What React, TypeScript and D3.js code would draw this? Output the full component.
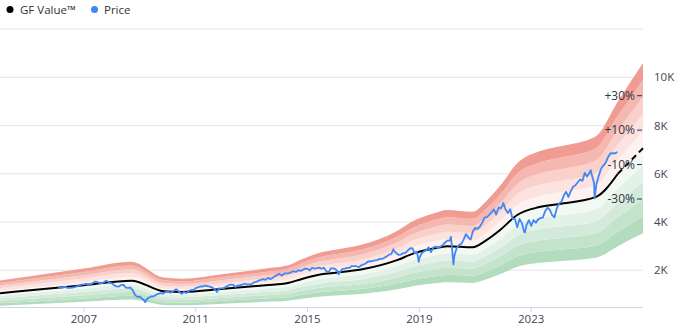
import React from "react";
import * as d3 from "d3";

// ---------- DATA ----------
// GF Value (decimal year, value)
const gfYears = [2004.0, 2007.0, 2008.7, 2009.85, 2010.5, 2012.0, 2013.5, 2014.3, 2014.8, 2015.5, 2016.0, 2017.0, 2018.2, 2018.8, 2019.5, 2020.0, 2020.9, 2021.4, 2021.9, 2022.5, 2023.3, 2024.0, 2025.3, 2026.1, 2027.0];
const gfValues = [1050, 1380, 1570, 1130, 1100, 1230, 1380, 1470, 1640, 1830, 1900, 2050, 2420, 2700, 2900, 3000, 2950, 3250, 3680, 4290, 4620, 4750, 5030, 6000, 7060];
const gfForecastFrom = 2026.1;

// Price: monthly closes starting Jan 2006
const priceStartYear = 2006;
const priceMonthly = [
  1280, 1281, 1295, 1311, 1270, 1270, 1277, 1304, 1336, 1378, 1401, 1418,
  1438, 1407, 1421, 1482, 1531, 1503, 1455, 1474, 1527, 1549, 1481, 1468,
  1379, 1331, 1323, 1386, 1400, 1280, 1267, 1283, 1165, 969, 896, 903,
  826, 735, 798, 873, 919, 919, 987, 1021, 1057, 1036, 1096, 1115,
  1074, 1104, 1169, 1187, 1089, 1031, 1102, 1049, 1141, 1183, 1181, 1258,
  1286, 1327, 1326, 1364, 1345, 1321, 1292, 1219, 1131, 1253, 1247, 1258,
  1312, 1366, 1408, 1398, 1310, 1362, 1379, 1407, 1441, 1412, 1416, 1426,
  1498, 1515, 1569, 1598, 1631, 1606, 1686, 1633, 1682, 1757, 1806, 1848,
  1783, 1859, 1872, 1884, 1924, 1960, 1931, 2003, 1972, 2018, 2068, 2059,
  1995, 2105, 2068, 2086, 2107, 2063, 2104, 1972, 1920, 2079, 2080, 2044,
  1940, 1932, 2060, 2065, 2097, 2099, 2174, 2171, 2168, 2126, 2199, 2239,
  2279, 2364, 2363, 2384, 2412, 2423, 2470, 2472, 2519, 2575, 2648, 2674,
  2824, 2714, 2641, 2648, 2705, 2718, 2816, 2902, 2914, 2712, 2760, 2507,
  2704, 2784, 2834, 2946, 2752, 2942, 2980, 2926, 2977, 3038, 3141, 3231,
  3226, 2954, 2585, 2912, 3044, 3100, 3271, 3500, 3363, 3270, 3622, 3756,
  3714, 3811, 3973, 4181, 4204, 4298, 4395, 4523, 4308, 4605, 4567, 4766,
  4516, 4374, 4530, 4132, 4132, 3785, 4130, 3955, 3586, 3872, 4080, 3840,
  4077, 3970, 4109, 4169, 4180, 4450, 4589, 4508, 4288, 4194, 4568, 4770,
  4846, 5096, 5254, 5036, 5278, 5460, 5522, 5648, 5762, 5705, 6032, 5882,
  6041, 5955, 5612, 5569, 5912, 6205, 6339, 6460, 6688, 6840, 6849, 6845,
  6900,
];
// intra-month extremes
const priceExtremeYears = [2007.78, 2009.19, 2010.3, 2010.5, 2011.76, 2016.11, 2018.07, 2018.98, 2020.13, 2020.22, 2022.0, 2022.78, 2025.13, 2025.27];
const priceExtremeValues = [1565, 676, 1217, 1022, 1099, 1829, 2872, 2351, 3386, 2237, 4796, 3577, 6144, 4982];

const bandFactors = [0.5, 0.6, 0.7, 0.8, 0.9, 1.0, 1.1, 1.2, 1.3, 1.4, 1.5];
const bandColors = ["#b3dbbd", "#c3e3ca", "#d3eadb", "#e3f2e7", "#f2f9f3", "#fdf2f0", "#fce3e0", "#f9d0ca", "#f5b8b0", "#f09c92"];

const yTicks = [2000, 4000, 6000, 8000, 10000, 12000];
const xTicks = [2007, 2011, 2015, 2019, 2023];
const pctLabels = ["+30%", "+10%", "-10%", "-30%"];
const pctValues = [30, 10, -10, -30];

const FONT = "'Open Sans', 'Noto Sans', sans-serif";

export default function App() {
  const W = 681, H = 330;
  const plotRight = 643, plotBottom = 307, plotTop = 29;
  const x = d3.scaleLinear().domain([2004, 2027]).range([0, plotRight]);
  const y = d3.scaleLinear().domain([477, 12000]).range([plotBottom, plotTop]);
  const pctY = d3.scaleLinear().domain([30, -30]).range([95.7, 199]);

  const gf = gfYears.map((t, i) => ({ t, v: gfValues[i] }));
  const gfSolid = gf.filter((d) => d.t <= gfForecastFrom);
  const gfDash = gf.filter((d) => d.t >= gfForecastFrom);

  const price = priceMonthly
    .map((v, i) => ({ t: priceStartYear + (i + 1) / 12, v }))
    .concat(priceExtremeYears.map((t, i) => ({ t, v: priceExtremeValues[i] })))
    .sort((a, b) => a.t - b.t);

  const line = d3
    .line<{ t: number; v: number }>()
    .x((d) => x(d.t))
    .y((d) => y(d.v))
    .curve(d3.curveMonotoneX);
  const priceLine = d3
    .line<{ t: number; v: number }>()
    .x((d) => x(d.t))
    .y((d) => y(d.v));

  const bands = bandColors.map((c, i) => {
    const lo = bandFactors[i], hi = bandFactors[i + 1];
    const a = d3
      .area<{ t: number; v: number }>()
      .x((d) => x(d.t))
      .y0((d) => y(d.v * lo))
      .y1((d) => y(d.v * hi))
      .curve(d3.curveMonotoneX);
    return { c, d: a(gf) || "" };
  });

  return (
    <svg width={W} height={H} style={{ position: "absolute", left: 0, top: 0 }} fontFamily={FONT}>
      <rect width={W} height={H} fill="#fff" />
      {yTicks.map((t) => (
        <line key={t} x1={0} x2={plotRight} y1={y(t)} y2={y(t)} stroke="#e6e6e6" strokeWidth={1} />
      ))}
      {bands.map((b, i) => (
        <path key={i} d={b.d} fill={b.c} stroke="none" />
      ))}
      <line x1={0} x2={plotRight} y1={plotBottom + 0.5} y2={plotBottom + 0.5} stroke="#ccd6eb" strokeWidth={1} />
      {xTicks.map((t) => (
        <g key={t}>
          <line x1={x(t)} x2={x(t)} y1={plotBottom} y2={plotBottom + 5} stroke="#ccd6eb" />
          <text x={x(t)} y={323} textAnchor="middle" fontSize={11.5} fill="#444455">
            {t}
          </text>
        </g>
      ))}
      {yTicks
        .filter((t) => t <= 10000)
        .map((t) => (
          <text key={t} x={654} y={y(t) + 4} fontSize={11.5} fill="#444455">
            {t / 1000 + "K"}
          </text>
        ))}
      <path d={line(gfSolid) || ""} fill="none" stroke="#000" strokeWidth={2} />
      <path d={line(gfDash) || ""} fill="none" stroke="#000" strokeWidth={2} strokeDasharray="6,4" />
      <path d={priceLine(price) || ""} fill="none" stroke="#4285f4" strokeWidth={1.8} strokeLinejoin="round" />
      {pctLabels.map((l, i) => (
        <g key={l}>
          <text x={635} y={pctY(pctValues[i]) + 4} textAnchor="end" fontSize={12} fill="#333344">
            {l}
          </text>
          <line x1={637} x2={642} y1={pctY(pctValues[i])} y2={pctY(pctValues[i])} stroke="#333344" strokeWidth={1} />
        </g>
      ))}
      <circle cx={10} cy={9.5} r={3.5} fill="#000" />
      <text x={20} y={13.5} fontSize={11.5} fill="#333">
        GF Value™
      </text>
      <circle cx={94.5} cy={9.5} r={3.5} fill="#4285f4" />
      <text x={104} y={13.5} fontSize={11.5} fill="#333">
        Price
      </text>
    </svg>
  );
}
